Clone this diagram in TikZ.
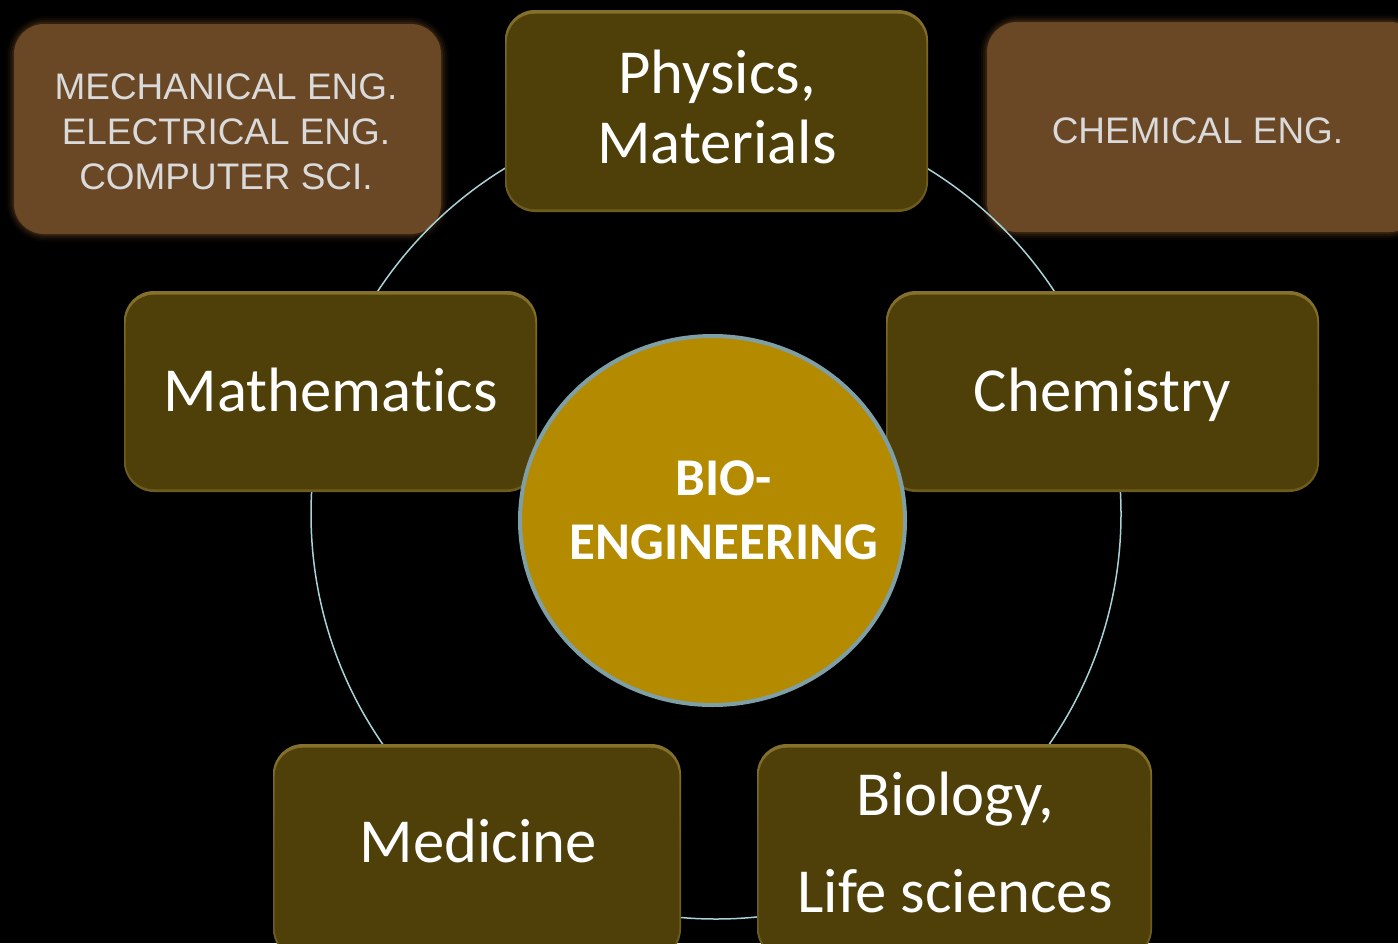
\documentclass[tikz,border=0pt]{standalone}
\usepackage{fontspec}
\setmainfont{Carlito}[Ligatures=CommonOff]
\newfontfamily\arialf{Liberation Sans}
\usetikzlibrary{shapes.geometric}
\newlength\px \setlength\px{0.75pt}
\definecolor{boxfill}{HTML}{4F400A}
\definecolor{boxedge}{HTML}{6E5B1E}
\definecolor{boxtop}{HTML}{85712C}
\definecolor{brownfill}{HTML}{6B4825}
\definecolor{hubfill}{HTML}{B38A00}
\definecolor{hubedge}{HTML}{7F9FA6}
\definecolor{ringcol}{HTML}{A8D2D8}
\definecolor{greytext}{HTML}{DADADA}
\tikzset{
  subjbox/.style={top color=boxtop, bottom color=boxedge, middle color=boxedge, rounded corners=30\px, inner sep=0pt},
  boxface/.style={fill=boxfill, rounded corners=28\px},
  brownbox/.style={fill=brownfill, rounded corners=30\px, inner sep=0pt},
  subjtext/.style={anchor=base, text=white, inner sep=0pt, font=\fontsize{47}{50}\selectfont},
  engtext/.style={anchor=base, text=greytext, inner sep=0pt, font=\arialf\fontsize{27.7}{33}\selectfont},
  hubtext/.style={anchor=base, text=white, inner sep=0pt, font=\bfseries\fontsize{39.8}{44}\selectfont},
  ringline/.style={draw=ringcol, line width=1.5\px},
}
\begin{document}
\begin{tikzpicture}[x=0.75pt,y=-0.75pt]
\fill[black] (0,0) rectangle (1398,943);
\useasboundingbox (0,0) rectangle (1398,943);
\clip (0,0) rectangle (1398,943);

% blurred brown boxes
\foreach \e/\o in {8/0.06,6/0.1,4/0.16,2/0.25}{
  \fill[brownfill, opacity=\o, rounded corners={(32+\e)*0.75pt}] ({14-\e},{24-\e}) rectangle ({441+\e},{234+\e});
  \fill[brownfill, opacity=\o, rounded corners={(32+\e)*0.75pt}] ({987-\e},{22-\e}) rectangle ({1420+\e},{232+\e});
}
\node[brownbox, minimum width=427\px, minimum height=210\px] (mecheng) at (227.5,129) {};
\node[brownbox, minimum width=433\px, minimum height=210\px] (chemeng) at (1203.5,127) {};

% ring
\coordinate (ringc) at (716,514);
\draw[ringline] (ringc) circle [radius=405\px];

% subject boxes
\node[subjbox, minimum width=423\px, minimum height=202\px] (phys) at (716.5,111) {};
\node[subjbox, minimum width=413\px, minimum height=201\px] (math) at (330.5,391.5) {};
\node[subjbox, minimum width=433\px, minimum height=201\px] (chem) at (1102.5,391.5) {};
\node[subjbox, minimum width=408\px, minimum height=215\px] (med) at (477,851.5) {};
\node[subjbox, minimum width=395\px, minimum height=215\px] (bio) at (954.5,851.5) {};
\foreach \b in {phys,math,chem,med,bio}{
  \fill[boxface] ([xshift=2\px,yshift=-4\px]\b.north west) rectangle ([xshift=-2\px,yshift=3\px]\b.south east);
}

% hub
\node[ellipse, draw=hubedge, line width=4\px, fill=hubfill, minimum width=385\px, minimum height=369\px, inner sep=0pt] (hub) at (712.5,520.5) {};

% texts
\node[engtext] (mech1) at (226,99.5) {MECHANICAL ENG.};
\node[engtext] (mech2) at (226,144.5) {ELECTRICAL ENG.};
\node[engtext] (mech3) at (226,189.5) {COMPUTER SCI.};
\node[engtext] (chem1) at (1197.5,143.5) {CHEMICAL ENG.};

\node[subjtext] (physt1) at (717,93) {Physics,};
\node[subjtext] (physt2) at (717,163) {Materials};
\node[subjtext] (matht) at (330.5,411) {Mathematics};
\node[subjtext] (chemt) at (1102.5,411) {Chemistry};
\node[subjtext] (medt) at (478,862) {Medicine};
\node[subjtext] (biot1) at (955,815) {Biology,};
\node[subjtext] (biot2) at (955,912) {Life sciences};

\node[hubtext] (hubt1) at (724,495.5) {BIO-};
\node[hubtext] (hubt2) at (724,559.5) {ENGINEERING};
\end{tikzpicture}
\end{document}
